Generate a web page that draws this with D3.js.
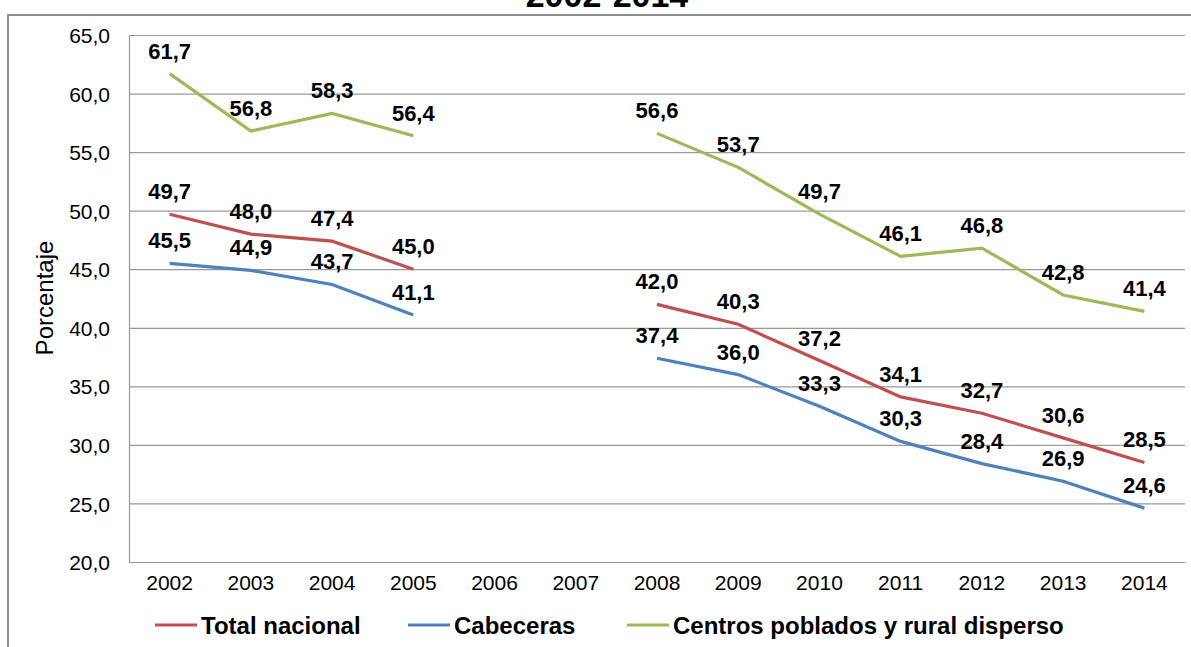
<!DOCTYPE html>
<meta charset="utf-8">
<style>
body { margin:0; background:#fff; }
text { font-family: "Liberation Sans", Arial, sans-serif; fill:#000; }
.grid line { stroke:#9a9a9a; stroke-width:1.2px; }
.grid path { stroke:none; }
.yaxis path { stroke:#9a9a9a; stroke-width:1.2px; }
.yaxis text, .xaxis text { font-size:21px; }
.xaxis path { stroke:#9a9a9a; stroke-width:1.2px; }
.lbl { font-size:22px; font-weight:bold; text-anchor:middle; }
.legend text { font-size:24px; font-weight:bold; }
</style>
<body>
<script src="https://d3js.org/d3.v7.min.js"></script>
<script>

var years = ["2002","2003","2004","2005","2006","2007","2008","2009","2010","2011","2012","2013","2014"];
var totalNacional = [49.7,48.0,47.4,45.0,null,null,42.0,40.3,37.2,34.1,32.7,30.6,28.5];
var cabeceras     = [45.5,44.9,43.7,41.1,null,null,37.4,36.0,33.3,30.3,28.4,26.9,24.6];
var centros       = [61.7,56.8,58.3,56.4,null,null,56.6,53.7,49.7,46.1,46.8,42.8,41.4];
var seriesNames = ["Total nacional","Cabeceras","Centros poblados y rural disperso"];
var yTicks = [20,25,30,35,40,45,50,55,60,65];

var colors = ["#c0504d","#4f81bd","#9bbb59"];
var series = [totalNacional, cabeceras, centros].map(function(vals,i){
  return {name:seriesNames[i], color:colors[i], values:vals.map(function(v,j){ return {year:years[j], v:v}; })};
});

var W = 1191, H = 647;
var svg = d3.select("body").append("svg").attr("width",W).attr("height",H);

// outer frame
svg.append("rect").attr("x",8).attr("y",15).attr("width",1190).attr("height",700)
  .attr("fill","none").attr("stroke","#8c8c8c").attr("stroke-width",2);

svg.append("text").attr("x",607).attr("y",7).attr("text-anchor","middle")
  .style("font-size","34px").style("font-weight","bold").text("2002-2014");

var x = d3.scaleBand().domain(years).range([129,1185]);
var y = d3.scaleLinear().domain([20,65]).range([562,35]);
var cx = function(d){ return x(d) + x.bandwidth()/2; };
var fmt = function(d){ return d3.format(".1f")(d).replace(".",","); };

svg.append("g").attr("class","grid").attr("transform","translate(129,0)")
  .call(d3.axisLeft(y).tickValues(yTicks).tickSize(-(1185-129)).tickFormat(""));

svg.append("g").attr("class","yaxis").attr("transform","translate(129,0)")
  .call(d3.axisLeft(y).tickValues(yTicks).tickSize(0).tickPadding(19).tickFormat(fmt))
  .selectAll("text").attr("dy","0.36em");

svg.append("g").attr("class","xaxis").attr("transform","translate(0,562)")
  .call(d3.axisBottom(x).tickSize(0).tickPadding(24))
  .selectAll("text").attr("dy","0.2em");

svg.append("text").attr("transform","translate(53,298) rotate(-90)")
  .attr("text-anchor","middle").style("font-size","24px").text("Porcentaje");

var line = d3.line().defined(function(d){ return d.v != null; })
  .x(function(d){ return cx(d.year); }).y(function(d){ return y(d.v); });

series.forEach(function(s){
  svg.append("path").datum(s.values).attr("d",line)
    .attr("fill","none").attr("stroke",s.color).attr("stroke-width",3.2);
});

series.forEach(function(s){
  svg.selectAll(null).data(s.values.filter(function(d){ return d.v != null; }))
    .enter().append("text").attr("class","lbl")
    .attr("x",function(d){ return cx(d.year); })
    .attr("y",function(d){ return y(d.v) - 15; })
    .text(function(d){ return fmt(d.v); });
});

var legX = [155,408,627];
var lg = svg.append("g").attr("class","legend");
series.forEach(function(s,i){
  lg.append("line").attr("x1",legX[i]).attr("x2",legX[i]+42).attr("y1",625).attr("y2",625)
    .attr("stroke",s.color).attr("stroke-width",3.2);
  lg.append("text").attr("x",legX[i]+46).attr("y",634).text(s.name);
});

</script>
</body>
